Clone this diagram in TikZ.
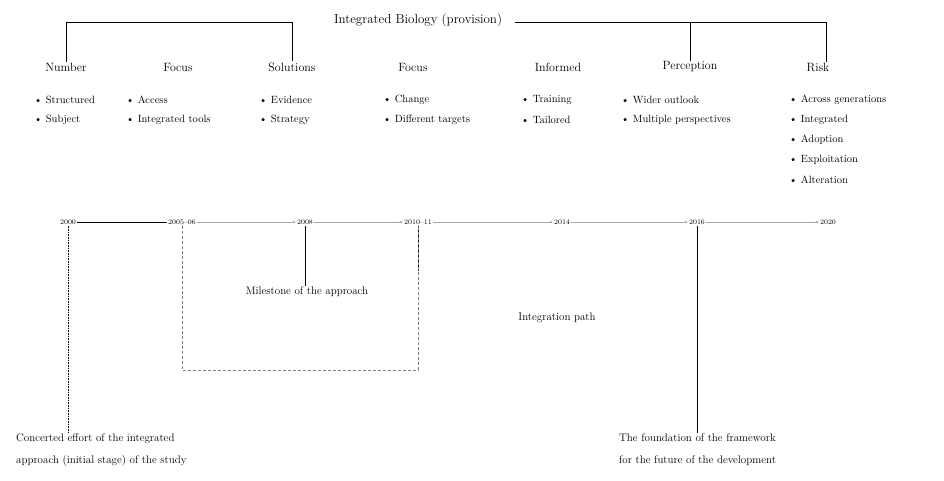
\documentclass[tikz,border=0pt]{standalone}
\usetikzlibrary{arrows.meta}
\begin{document}
\begin{tikzpicture}[x=1pt,y=-1pt,
  hd/.style={font=\fontsize{12}{14}\selectfont, inner sep=1pt},
  item/.style={font=\fontsize{10.5}{12}\selectfont, inner sep=1pt, anchor=west, align=left},
  ev/.style={font=\fontsize{7}{8}\selectfont, inner sep=1pt},
  lbl/.style={font=\fontsize{11}{13}\selectfont, inner sep=1pt, align=left},
  twoline/.style={font=\fontsize{11}{22}\selectfont, inner sep=1pt, align=left, anchor=north west},
  thin line/.style={draw=gray!70, line width=0.6pt, -{Stealth[length=3pt,width=2.5pt]}},
  bold line/.style={draw=black, line width=1pt},
  link/.style={draw=black, line width=0.6pt}]
\useasboundingbox (0,0) rectangle (944,480);
\fill[white] (0,0) rectangle (944,480);
% title
\node[hd, font=\fontsize{13}{15}\selectfont] (title) at (418,20) {Integrated Biology (provision)};
\coordinate (tl) at (292,22);
\coordinate (tr) at (826,22);
% headers
\node[hd] (h1) at (66,67) {Number};
\node[hd] (h2) at (178,67) {Focus};
\node[hd] (h3) at (292,67) {Solutions};
\node[hd] (h4) at (413,67) {Focus};
\node[hd] (h5) at (558,67) {Informed};
\node[hd] (h6) at (690,67) {Perception};
\node[hd] (h7) at (818,67) {Risk};
\draw[link] (tl) -| (h1.north);
\draw[link] (tl) -- (tl |- h3.north);
\draw[link] ([xshift=12pt]title.east |- tr) -- (tr) -- (tr |- h7.north);
\draw[link] (h6.north) -- (h6.north |- tr);
% items
\node[item] (a1) at (33,100) {• Structured};
\node[item] (a2) at (33,120) {• Subject};
\node[item] (b1) at (125,100) {• Access};
\node[item] (b2) at (125,120) {• Integrated tools};
\node[item] (c1) at (258,100) {• Evidence};
\node[item] (c2) at (258,120) {• Strategy};
\node[item] (d1) at (382,100) {• Change};
\node[item] (d2) at (382,120) {• Different targets};
\node[item] (e1) at (520,100) {• Training};
\node[item] (e2) at (520,120) {• Tailored};
\node[item] (f1) at (620,100) {• Wider outlook};
\node[item] (f2) at (620,120) {• Multiple perspectives};
\node[item] (g1) at (788,100) {• Across generations};
\node[item] (g2) at (788,120) {• Integrated};
\node[item] (g3) at (788,140) {• Adoption};
\node[item] (g4) at (788,160) {• Exploitation};
\node[item] (g5) at (788,180) {• Alteration};
% timeline events
\node[ev] (n1) at (68,222) {2000};
\node[ev] (n2) at (182,222) {2005--06};
\node[ev] (n3) at (305,222) {2008};
\node[ev] (n4) at (418,222) {2010--11};
\node[ev] (n5) at (562,222) {2014};
\node[ev] (n6) at (697,222) {2016};
\node[ev] (n7) at (828,222) {2020};
\draw[bold line] (n1) -- (n2);
\draw[thin line] (n2) -- (n3);
\draw[thin line] (n3) -- (n4);
\draw[thin line] (n4) -- (n5);
\draw[thin line] (n5) -- (n6);
\draw[thin line] (n6) -- (n7);
% labels
\node[twoline] (L1) at (15,433) {Concerted effort of the integrated\\approach (initial stage) of the study};
\node[lbl] (L3) at (307,292) {Milestone of the approach};
\node[lbl] (L4) at (557,318) {Integration path};
\node[twoline] (L6) at (618,433) {The foundation of the framework\\for the future of the development};
\draw[link, densely dotted] (n1) -- (n1 |- L1.north);
\draw[link] (n3) -- (n3 |- L3.north);
\draw[bold line] (n6) -- (n6 |- L6.north);
\draw[bold line] (n4.south) -- ++(0,45);
\draw[draw=gray, line width=0.6pt, densely dashed] (n2) -- (n2 |- 0,370) -- (n4 |- 0,370) -- (n4);
\end{tikzpicture}
\end{document}
